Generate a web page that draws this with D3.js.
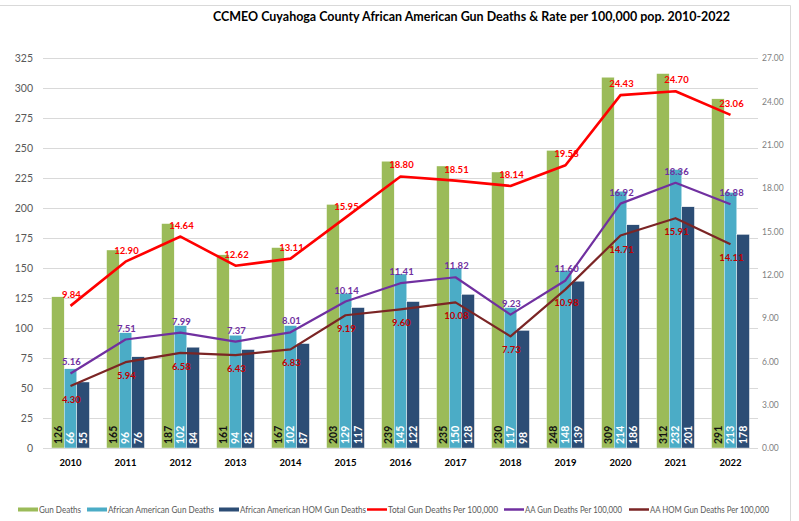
<!DOCTYPE html>
<html><head><meta charset="utf-8">
<script src="https://cdn.jsdelivr.net/npm/d3@7/dist/d3.min.js"></script>
<style>body{margin:0;background:#fff}svg{display:block;font-family:Lato,"Open Sans",sans-serif}</style>
</head><body><svg id="c" width="799" height="521"></svg>
<script>
const years = ["2010","2011","2012","2013","2014","2015","2016","2017","2018","2019","2020","2021","2022"];
const gunDeaths = [126,165,187,161,167,203,239,235,230,248,309,312,291];
const aaGunDeaths = [66,96,102,94,102,129,145,150,117,148,214,232,213];
const aaHomGunDeaths = [55,76,84,82,87,117,122,128,98,139,186,201,178];
const totalRate = [9.84,12.90,14.64,12.62,13.11,15.95,18.80,18.51,18.14,19.58,24.43,24.70,23.06];
const aaRate = [5.16,7.51,7.99,7.37,8.01,10.14,11.41,11.82,9.23,11.60,16.92,18.36,16.88];
const aaHomRate = [4.30,5.94,6.58,6.43,6.83,9.19,9.60,10.08,7.73,10.98,14.71,15.91,14.11];
const leftTicks = [0,25,50,75,100,125,150,175,200,225,250,275,300,325];
const rightTicks = [0,3,6,9,12,15,18,21,24,27];

const svg = d3.select("#c");
const L = 43, R = 758, T = 58, B = 448;

// border
svg.append("path").attr("d","M0,5.5H790.5V521").attr("fill","none").attr("stroke","#d9d9d9");

svg.append("text").attr("x",213).attr("y",21)
  .attr("font-size",13).attr("font-weight","bold").attr("fill","#000")
  .attr("textLength",517).attr("lengthAdjust","spacingAndGlyphs")
  .text("CCMEO Cuyahoga County African American Gun Deaths & Rate per 100,000 pop. 2010-2022");

const x = d3.scaleBand().domain(years).range([L,R]).paddingInner(0).paddingOuter(0);
const yL = d3.scaleLinear().domain([0,325]).range([B,T]);
const yR = d3.scaleLinear().domain([0,27]).range([B,T]);

// gridlines
svg.append("g").selectAll("line").data(leftTicks).join("line")
  .attr("x1",L).attr("x2",R).attr("y1",d=>Math.round(yL(d))+0.5).attr("y2",d=>Math.round(yL(d))+0.5)
  .attr("stroke","#d9d9d9").attr("stroke-width",1);

// left axis
const ga = svg.append("g").attr("transform",`translate(${L-10},0)`)
  .call(d3.axisLeft(yL).tickValues(leftTicks).tickSize(0).tickPadding(0));
ga.select(".domain").remove();
ga.selectAll("text").attr("font-size",10.5).attr("fill","#595959").attr("font-family","Lato,sans-serif");

// right axis
const gr = svg.append("g").attr("transform",`translate(${R+4},0)`)
  .call(d3.axisRight(yR).tickValues(rightTicks).tickFormat(d3.format(".2f")).tickSize(0).tickPadding(0));
gr.select(".domain").remove();
gr.selectAll("text").attr("font-size",8.5).attr("fill","#7f7f7f").attr("font-family","Lato,sans-serif");

// bars
const series = [
  {vals:gunDeaths, color:"#9bbb59", text:"#111"},
  {vals:aaGunDeaths, color:"#4bacc6", text:"#fff"},
  {vals:aaHomGunDeaths, color:"#2c4d75", text:"#fff"}
];
const bw = 12.6;
const inner = d3.scaleBand().domain([0,1,2]).range([0,bw*3]);
series.forEach((s,si)=>{
  const g = svg.append("g");
  g.selectAll("rect").data(years).join("rect")
    .attr("x",d=>x(d)+x.bandwidth()/2-bw*1.5+inner(si))
    .attr("y",(d,i)=>yL(s.vals[i]))
    .attr("width",bw).attr("height",(d,i)=>B-yL(s.vals[i]))
    .attr("fill",s.color).attr("stroke","#fff").attr("stroke-width",0.4);
  g.selectAll("text").data(years).join("text")
    .attr("transform",d=>`translate(${x(d)+x.bandwidth()/2-bw*1.5+inner(si)+bw/2+3.6},${B-4}) rotate(-90)`)
    .attr("font-size",10.5).attr("font-weight","bold").attr("fill",s.text)
    .text((d,i)=>s.vals[i]);
});

// x axis baseline
svg.append("line").attr("x1",L).attr("x2",R).attr("y1",B+0.5).attr("y2",B+0.5).attr("stroke","#d9d9d9");
svg.append("g").selectAll("text").data(years).join("text")
  .attr("x",d=>x(d)+x.bandwidth()/2).attr("y",466).attr("text-anchor","middle")
  .attr("font-size",9.5).attr("font-weight","bold").attr("fill","#000").text(d=>d);

// lines
const lines = [
  {vals:totalRate, color:"#ff0000", label:"#ff0000", dy:-8, w:2.6},
  {vals:aaRate, color:"#7030a0", label:"#7030a0", dy:-8, w:2.2},
  {vals:aaHomRate, color:"#7b2525", label:"#c00000", dy:17, w:2.2}
];
const cx = d=>x(d)+x.bandwidth()/2;
lines.forEach(l=>{
  const line = d3.line().x((d,i)=>cx(years[i])).y(d=>yR(d));
  svg.append("path").datum(l.vals).attr("d",line).attr("fill","none")
    .attr("stroke",l.color).attr("stroke-width",l.w).attr("stroke-linejoin","round");
});
lines.forEach(l=>{
  svg.append("g").selectAll("text").data(l.vals).join("text")
    .attr("x",(d,i)=>cx(years[i])+1).attr("y",d=>yR(d)+l.dy).attr("text-anchor","middle")
    .attr("font-size",9.5).attr("font-weight","bold").attr("fill",l.label)
    .text(d=>d.toFixed(2));
});

// legend
const legend = [
  {name:"Gun Deaths", color:"#9bbb59", x:18, h:4, tw:42},
  {name:"African American Gun Deaths", color:"#4bacc6", x:87, h:4, tw:106},
  {name:"African American HOM Gun Deaths", color:"#2c4d75", x:219, h:4, tw:126},
  {name:"Total Gun Deaths Per 100,000", color:"#ff0000", x:367, h:2.5, tw:110},
  {name:"AA Gun Deaths Per 100,000", color:"#7030a0", x:504, h:2.5, tw:97},
  {name:"AA HOM Gun Deaths Per 100,000", color:"#7b2525", x:629, h:2.5, tw:119}
];
const lg = svg.append("g");
legend.forEach(it=>{
  lg.append("rect").attr("x",it.x).attr("y",509.5-it.h/2).attr("width",20).attr("height",it.h).attr("fill",it.color);
  lg.append("text").attr("x",it.x+21).attr("y",512.5).attr("font-size",8.5).attr("fill","#595959")
    .attr("textLength",it.tw).attr("lengthAdjust","spacingAndGlyphs").text(it.name);
});
</script></body></html>
